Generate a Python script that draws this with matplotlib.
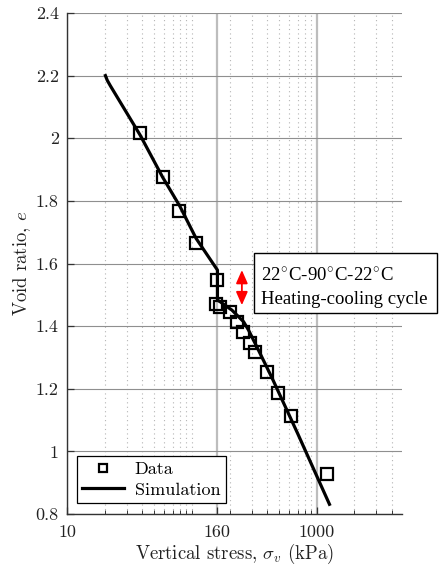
import numpy as np
import matplotlib
matplotlib.use("Agg")
import matplotlib.pyplot as plt
from matplotlib.ticker import FixedLocator, FuncFormatter, NullFormatter
from matplotlib.patches import Rectangle

plt.rcParams['mathtext.fontset'] = 'cm'
plt.rcParams['font.family'] = ['cmr10', 'DejaVu Serif']
plt.rcParams['axes.formatter.use_mathtext'] = True

# ---- data ----
data_stress = [38.5, 58.2, 79.1, 108, 158, 156, 168, 200, 229, 254, 293, 317, 398, 488, 623, 1216]
data_void = [2.018, 1.877, 1.768, 1.665, 1.546, 1.470, 1.462, 1.446, 1.414, 1.382, 1.347, 1.316, 1.254, 1.185, 1.112, 0.929]

sim_stress = [20.3, 21.0, 22.2, 38.5, 58.0, 80.0, 108, 160, 160, 168, 209, 259, 284, 341, 437, 700, 1261]
sim_void = [2.200, 2.185, 2.168, 2.010, 1.877, 1.783, 1.680, 1.579, 1.483, 1.478, 1.451, 1.414, 1.387, 1.323, 1.235, 1.058, 0.831]

x_major = [10, 160, 1000]
x_minor = [20, 30, 40, 50, 60, 70, 80, 90, 100, 200, 300, 400, 500, 600, 700, 800, 900, 2000, 3000, 4000]
y_ticks = [0.8, 1.0, 1.2, 1.4, 1.6, 1.8, 2.0, 2.2, 2.4]

arrow_x = 251
arrow_top = 1.579
arrow_bottom = 1.467

W, H = 440, 570
fig = plt.figure(figsize=(W / 100, H / 100), dpi=100)
ax = fig.add_axes([67 / W, 1 - 514 / H, (402 - 67) / W, (514 - 13) / H])

ax.set_xscale('log')
ax.set_xlim(10, 4800)
ax.set_ylim(0.8, 2.4)

ax.xaxis.set_major_locator(FixedLocator(x_major))
ax.xaxis.set_minor_locator(FixedLocator(x_minor))
ax.xaxis.set_major_formatter(FuncFormatter(lambda v, p: '%g' % v))
ax.xaxis.set_minor_formatter(NullFormatter())
ax.yaxis.set_major_locator(FixedLocator(y_ticks))
ax.yaxis.set_major_formatter(FuncFormatter(lambda v, p: '%g' % round(v, 2)))

# grids
ax.grid(True, axis='y', which='major', color='#8f8f8f', lw=0.8, ls='-')
ax.grid(True, axis='x', which='major', color='#bdbdbd', lw=1.6, ls='-')
ax.grid(True, axis='x', which='minor', color='#b4b4b4', lw=0.8, ls=(0, (1, 3)))
ax.set_axisbelow(True)

for s in ['top', 'right']:
    ax.spines[s].set_visible(False)
for s in ['left', 'bottom']:
    ax.spines[s].set_color('#333333')
    ax.spines[s].set_linewidth(1.0)

ax.tick_params(axis='both', which='major', direction='in', length=5, width=0.9,
               colors='#333333', labelsize=13, labelcolor='#222222')
ax.tick_params(axis='x', which='minor', direction='in', length=3, width=0.7, colors='#333333')
ax.tick_params(axis='x', which='major', pad=8)
ax.tick_params(axis='y', which='major', pad=6)

ax.plot(sim_stress, sim_void, color='black', lw=2.3, label='Simulation', zorder=3)
ax.plot(data_stress, data_void, ls='none', marker='s', ms=8.2, mfc='none', mec='black',
        mew=1.6, label='Data', zorder=4)

ax.set_xlabel(r'Vertical stress, $\sigma_v$ (kPa)', fontsize=13.5, color='#222222', labelpad=1)
ax.set_ylabel(r'Void ratio, $e$', fontsize=13.5, color='#222222', labelpad=2)

handles, labels = ax.get_legend_handles_labels()
leg = ax.legend(handles[::-1], labels[::-1], loc='lower left', bbox_to_anchor=(0.03, 0.022),
                borderaxespad=0, fancybox=False, edgecolor='black', fontsize=13,
                markerscale=0.65, handlelength=2.3, framealpha=1, borderpad=0.3,
                labelspacing=0.25, handletextpad=0.6)
leg.get_frame().set_linewidth(0.9)

ax.annotate('', xy=(arrow_x, arrow_bottom), xytext=(arrow_x, arrow_top),
            arrowprops=dict(arrowstyle='<|-|>,head_length=0.5,head_width=0.22', color='red', lw=1.3,
                            mutation_scale=16, shrinkA=0, shrinkB=0))

# annotation box
fig.patches.append(Rectangle((254 / W, 1 - 313 / H), (437 - 254) / W, 60 / H,
                             transform=fig.transFigure, fill=True, facecolor='white',
                             edgecolor='black', lw=1.0, zorder=5))
fig.text(261 / W, 1 - 281.5 / H, r'22$^{\circ}$C-90$^{\circ}$C-22$^{\circ}$C',
         family='Liberation Serif', fontsize=13.5, va='baseline', ha='left', zorder=6)
fig.text(261 / W, 1 - 304.5 / H, 'Heating-cooling cycle',
         family='Liberation Serif', fontsize=13.5, va='baseline', ha='left', zorder=6)

fig.savefig('out.png', dpi=100)
